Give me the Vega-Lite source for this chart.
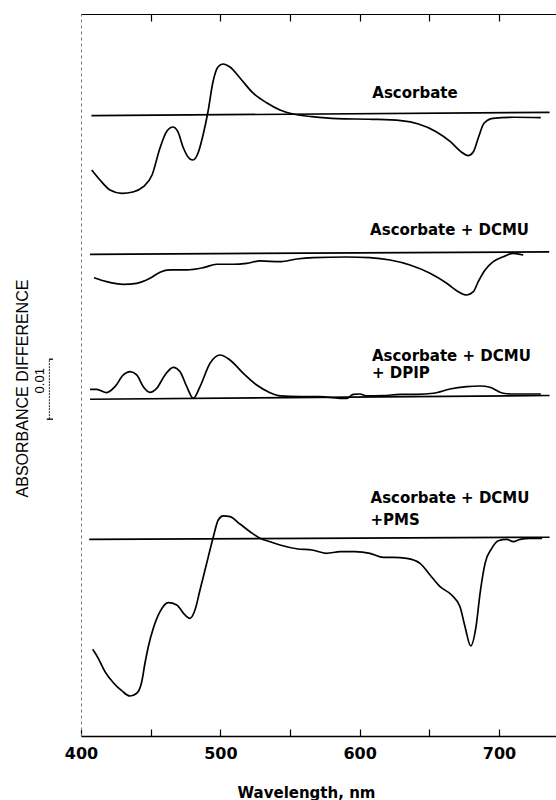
{
  "$schema": "https://vega.github.io/schema/vega-lite/v6.json",
  "width": 475,
  "height": 722,
  "autosize": {"type": "none"},
  "padding": {"left": 81, "top": 14, "right": 0, "bottom": 64},
  "background": "white",
  "config": {"view": {"stroke": null}},
  "datasets": {
    "curves": [
      {"trace": "Ascorbate", "wl": 407.7, "y": 94.33},
      {"trace": "Ascorbate", "wl": 413.6, "y": 92.67},
      {"trace": "Ascorbate", "wl": 420.8, "y": 91.0},
      {"trace": "Ascorbate", "wl": 429.2, "y": 90.45},
      {"trace": "Ascorbate", "wl": 437.3, "y": 90.67},
      {"trace": "Ascorbate", "wl": 444.5, "y": 91.5},
      {"trace": "Ascorbate", "wl": 451.0, "y": 93.5},
      {"trace": "Ascorbate", "wl": 456.7, "y": 98.0},
      {"trace": "Ascorbate", "wl": 461.7, "y": 100.83},
      {"trace": "Ascorbate", "wl": 466.0, "y": 101.5},
      {"trace": "Ascorbate", "wl": 469.6, "y": 100.67},
      {"trace": "Ascorbate", "wl": 473.2, "y": 98.17},
      {"trace": "Ascorbate", "wl": 478.2, "y": 96.17},
      {"trace": "Ascorbate", "wl": 480.4, "y": 96.0},
      {"trace": "Ascorbate", "wl": 484.0, "y": 97.17},
      {"trace": "Ascorbate", "wl": 487.6, "y": 100.17},
      {"trace": "Ascorbate", "wl": 491.1, "y": 104.0},
      {"trace": "Ascorbate", "wl": 494.7, "y": 109.0},
      {"trace": "Ascorbate", "wl": 498.3, "y": 111.5},
      {"trace": "Ascorbate", "wl": 501.9, "y": 112.0},
      {"trace": "Ascorbate", "wl": 506.9, "y": 111.5},
      {"trace": "Ascorbate", "wl": 514.1, "y": 109.67},
      {"trace": "Ascorbate", "wl": 523.4, "y": 107.17},
      {"trace": "Ascorbate", "wl": 533.5, "y": 105.5},
      {"trace": "Ascorbate", "wl": 542.8, "y": 104.33},
      {"trace": "Ascorbate", "wl": 553.1, "y": 103.62},
      {"trace": "Ascorbate", "wl": 565.8, "y": 103.22},
      {"trace": "Ascorbate", "wl": 583.7, "y": 102.88},
      {"trace": "Ascorbate", "wl": 609.1, "y": 102.78},
      {"trace": "Ascorbate", "wl": 629.5, "y": 102.55},
      {"trace": "Ascorbate", "wl": 642.2, "y": 102.0},
      {"trace": "Ascorbate", "wl": 654.9, "y": 100.72},
      {"trace": "Ascorbate", "wl": 665.1, "y": 99.05},
      {"trace": "Ascorbate", "wl": 672.7, "y": 97.38},
      {"trace": "Ascorbate", "wl": 677.8, "y": 96.72},
      {"trace": "Ascorbate", "wl": 681.6, "y": 97.38},
      {"trace": "Ascorbate", "wl": 685.4, "y": 99.88},
      {"trace": "Ascorbate", "wl": 689.2, "y": 102.12},
      {"trace": "Ascorbate", "wl": 695.6, "y": 102.95},
      {"trace": "Ascorbate", "wl": 710.9, "y": 103.12},
      {"trace": "Ascorbate", "wl": 730.0, "y": 103.05},

      {"trace": "Ascorbate + DCMU", "wl": 409.3, "y": 76.38},
      {"trace": "Ascorbate + DCMU", "wl": 418.4, "y": 75.72},
      {"trace": "Ascorbate + DCMU", "wl": 430.4, "y": 75.28},
      {"trace": "Ascorbate + DCMU", "wl": 440.0, "y": 75.45},
      {"trace": "Ascorbate + DCMU", "wl": 449.5, "y": 76.28},
      {"trace": "Ascorbate + DCMU", "wl": 456.7, "y": 77.28},
      {"trace": "Ascorbate + DCMU", "wl": 463.9, "y": 77.67},
      {"trace": "Ascorbate + DCMU", "wl": 475.9, "y": 77.67},
      {"trace": "Ascorbate + DCMU", "wl": 487.8, "y": 78.05},
      {"trace": "Ascorbate + DCMU", "wl": 497.4, "y": 78.62},
      {"trace": "Ascorbate + DCMU", "wl": 509.3, "y": 78.62},
      {"trace": "Ascorbate + DCMU", "wl": 518.9, "y": 78.78},
      {"trace": "Ascorbate + DCMU", "wl": 528.5, "y": 79.17},
      {"trace": "Ascorbate + DCMU", "wl": 542.8, "y": 79.05},
      {"trace": "Ascorbate + DCMU", "wl": 554.8, "y": 79.5},
      {"trace": "Ascorbate + DCMU", "wl": 566.7, "y": 79.72},
      {"trace": "Ascorbate + DCMU", "wl": 590.7, "y": 79.83},
      {"trace": "Ascorbate + DCMU", "wl": 607.4, "y": 79.72},
      {"trace": "Ascorbate + DCMU", "wl": 621.8, "y": 79.33},
      {"trace": "Ascorbate + DCMU", "wl": 636.1, "y": 78.5},
      {"trace": "Ascorbate + DCMU", "wl": 650.5, "y": 77.12},
      {"trace": "Ascorbate + DCMU", "wl": 662.5, "y": 75.45},
      {"trace": "Ascorbate + DCMU", "wl": 670.8, "y": 74.05},
      {"trace": "Ascorbate + DCMU", "wl": 676.8, "y": 73.5},
      {"trace": "Ascorbate + DCMU", "wl": 681.6, "y": 74.05},
      {"trace": "Ascorbate + DCMU", "wl": 685.1, "y": 75.72},
      {"trace": "Ascorbate + DCMU", "wl": 690.0, "y": 77.67},
      {"trace": "Ascorbate + DCMU", "wl": 695.9, "y": 79.05},
      {"trace": "Ascorbate + DCMU", "wl": 703.1, "y": 79.88},
      {"trace": "Ascorbate + DCMU", "wl": 710.3, "y": 80.45},
      {"trace": "Ascorbate + DCMU", "wl": 717.4, "y": 80.17},

      {"trace": "Ascorbate + DCMU + DPIP", "wl": 406.5, "y": 57.78},
      {"trace": "Ascorbate + DCMU + DPIP", "wl": 411.3, "y": 57.78},
      {"trace": "Ascorbate + DCMU + DPIP", "wl": 418.4, "y": 57.22},
      {"trace": "Ascorbate + DCMU + DPIP", "wl": 424.4, "y": 58.22},
      {"trace": "Ascorbate + DCMU + DPIP", "wl": 430.4, "y": 60.17},
      {"trace": "Ascorbate + DCMU + DPIP", "wl": 435.2, "y": 60.72},
      {"trace": "Ascorbate + DCMU + DPIP", "wl": 440.0, "y": 60.17},
      {"trace": "Ascorbate + DCMU + DPIP", "wl": 444.7, "y": 58.22},
      {"trace": "Ascorbate + DCMU + DPIP", "wl": 449.5, "y": 57.28},
      {"trace": "Ascorbate + DCMU + DPIP", "wl": 454.3, "y": 57.95},
      {"trace": "Ascorbate + DCMU + DPIP", "wl": 460.3, "y": 60.17},
      {"trace": "Ascorbate + DCMU + DPIP", "wl": 466.2, "y": 61.45},
      {"trace": "Ascorbate + DCMU + DPIP", "wl": 471.1, "y": 60.72},
      {"trace": "Ascorbate + DCMU + DPIP", "wl": 475.9, "y": 58.22},
      {"trace": "Ascorbate + DCMU + DPIP", "wl": 480.6, "y": 56.28},
      {"trace": "Ascorbate + DCMU + DPIP", "wl": 485.4, "y": 58.22},
      {"trace": "Ascorbate + DCMU + DPIP", "wl": 492.6, "y": 62.12},
      {"trace": "Ascorbate + DCMU + DPIP", "wl": 499.8, "y": 63.5},
      {"trace": "Ascorbate + DCMU + DPIP", "wl": 506.9, "y": 62.67},
      {"trace": "Ascorbate + DCMU + DPIP", "wl": 516.5, "y": 60.45},
      {"trace": "Ascorbate + DCMU + DPIP", "wl": 526.1, "y": 58.5},
      {"trace": "Ascorbate + DCMU + DPIP", "wl": 535.6, "y": 57.22},
      {"trace": "Ascorbate + DCMU + DPIP", "wl": 542.8, "y": 56.67},
      {"trace": "Ascorbate + DCMU + DPIP", "wl": 557.2, "y": 56.55},
      {"trace": "Ascorbate + DCMU + DPIP", "wl": 571.5, "y": 56.55},
      {"trace": "Ascorbate + DCMU + DPIP", "wl": 585.9, "y": 56.28},
      {"trace": "Ascorbate + DCMU + DPIP", "wl": 590.7, "y": 56.28},
      {"trace": "Ascorbate + DCMU + DPIP", "wl": 595.4, "y": 56.95},
      {"trace": "Ascorbate + DCMU + DPIP", "wl": 600.2, "y": 57.0},
      {"trace": "Ascorbate + DCMU + DPIP", "wl": 605.1, "y": 56.67},
      {"trace": "Ascorbate + DCMU + DPIP", "wl": 617.0, "y": 56.72},
      {"trace": "Ascorbate + DCMU + DPIP", "wl": 629.0, "y": 56.95},
      {"trace": "Ascorbate + DCMU + DPIP", "wl": 640.9, "y": 56.95},
      {"trace": "Ascorbate + DCMU + DPIP", "wl": 652.9, "y": 57.12},
      {"trace": "Ascorbate + DCMU + DPIP", "wl": 664.8, "y": 57.83},
      {"trace": "Ascorbate + DCMU + DPIP", "wl": 676.8, "y": 58.22},
      {"trace": "Ascorbate + DCMU + DPIP", "wl": 686.4, "y": 58.33},
      {"trace": "Ascorbate + DCMU + DPIP", "wl": 693.5, "y": 58.12},
      {"trace": "Ascorbate + DCMU + DPIP", "wl": 703.1, "y": 57.12},
      {"trace": "Ascorbate + DCMU + DPIP", "wl": 710.3, "y": 57.0},
      {"trace": "Ascorbate + DCMU + DPIP", "wl": 722.2, "y": 57.0},
      {"trace": "Ascorbate + DCMU + DPIP", "wl": 730.0, "y": 57.0},

      {"trace": "Ascorbate + DCMU + PMS", "wl": 408.4, "y": 14.45},
      {"trace": "Ascorbate + DCMU + PMS", "wl": 412.4, "y": 12.95},
      {"trace": "Ascorbate + DCMU + PMS", "wl": 417.2, "y": 10.72},
      {"trace": "Ascorbate + DCMU + PMS", "wl": 423.2, "y": 8.88},
      {"trace": "Ascorbate + DCMU + PMS", "wl": 429.2, "y": 7.55},
      {"trace": "Ascorbate + DCMU + PMS", "wl": 435.2, "y": 6.67},
      {"trace": "Ascorbate + DCMU + PMS", "wl": 440.0, "y": 7.12},
      {"trace": "Ascorbate + DCMU + PMS", "wl": 443.6, "y": 9.05},
      {"trace": "Ascorbate + DCMU + PMS", "wl": 445.9, "y": 12.12},
      {"trace": "Ascorbate + DCMU + PMS", "wl": 448.3, "y": 14.88},
      {"trace": "Ascorbate + DCMU + PMS", "wl": 451.9, "y": 17.95},
      {"trace": "Ascorbate + DCMU + PMS", "wl": 456.7, "y": 20.72},
      {"trace": "Ascorbate + DCMU + PMS", "wl": 462.7, "y": 22.22},
      {"trace": "Ascorbate + DCMU + PMS", "wl": 468.7, "y": 21.83},
      {"trace": "Ascorbate + DCMU + PMS", "wl": 474.6, "y": 20.17},
      {"trace": "Ascorbate + DCMU + PMS", "wl": 478.2, "y": 19.62},
      {"trace": "Ascorbate + DCMU + PMS", "wl": 481.8, "y": 21.0},
      {"trace": "Ascorbate + DCMU + PMS", "wl": 485.4, "y": 24.33},
      {"trace": "Ascorbate + DCMU + PMS", "wl": 490.2, "y": 28.78},
      {"trace": "Ascorbate + DCMU + PMS", "wl": 495.0, "y": 33.22},
      {"trace": "Ascorbate + DCMU + PMS", "wl": 498.5, "y": 36.0},
      {"trace": "Ascorbate + DCMU + PMS", "wl": 502.1, "y": 36.67},
      {"trace": "Ascorbate + DCMU + PMS", "wl": 506.9, "y": 36.55},
      {"trace": "Ascorbate + DCMU + PMS", "wl": 514.1, "y": 35.33},
      {"trace": "Ascorbate + DCMU + PMS", "wl": 521.3, "y": 34.05},
      {"trace": "Ascorbate + DCMU + PMS", "wl": 528.5, "y": 32.95},
      {"trace": "Ascorbate + DCMU + PMS", "wl": 535.6, "y": 32.38},
      {"trace": "Ascorbate + DCMU + PMS", "wl": 542.8, "y": 31.83},
      {"trace": "Ascorbate + DCMU + PMS", "wl": 555.7, "y": 31.17},
      {"trace": "Ascorbate + DCMU + PMS", "wl": 565.8, "y": 31.0},
      {"trace": "Ascorbate + DCMU + PMS", "wl": 576.0, "y": 30.45},
      {"trace": "Ascorbate + DCMU + PMS", "wl": 586.2, "y": 30.72},
      {"trace": "Ascorbate + DCMU + PMS", "wl": 596.4, "y": 30.72},
      {"trace": "Ascorbate + DCMU + PMS", "wl": 607.4, "y": 30.45},
      {"trace": "Ascorbate + DCMU + PMS", "wl": 617.0, "y": 29.78},
      {"trace": "Ascorbate + DCMU + PMS", "wl": 624.1, "y": 29.78},
      {"trace": "Ascorbate + DCMU + PMS", "wl": 633.8, "y": 29.6},
      {"trace": "Ascorbate + DCMU + PMS", "wl": 643.3, "y": 28.78},
      {"trace": "Ascorbate + DCMU + PMS", "wl": 650.5, "y": 26.83},
      {"trace": "Ascorbate + DCMU + PMS", "wl": 657.7, "y": 24.88},
      {"trace": "Ascorbate + DCMU + PMS", "wl": 666.0, "y": 23.5},
      {"trace": "Ascorbate + DCMU + PMS", "wl": 672.0, "y": 21.55},
      {"trace": "Ascorbate + DCMU + PMS", "wl": 675.6, "y": 18.22},
      {"trace": "Ascorbate + DCMU + PMS", "wl": 679.7, "y": 15.0},
      {"trace": "Ascorbate + DCMU + PMS", "wl": 683.5, "y": 18.22},
      {"trace": "Ascorbate + DCMU + PMS", "wl": 686.4, "y": 23.78},
      {"trace": "Ascorbate + DCMU + PMS", "wl": 690.0, "y": 28.78},
      {"trace": "Ascorbate + DCMU + PMS", "wl": 694.8, "y": 31.28},
      {"trace": "Ascorbate + DCMU + PMS", "wl": 699.5, "y": 32.55},
      {"trace": "Ascorbate + DCMU + PMS", "wl": 705.5, "y": 32.78},
      {"trace": "Ascorbate + DCMU + PMS", "wl": 710.3, "y": 32.38},
      {"trace": "Ascorbate + DCMU + PMS", "wl": 715.1, "y": 32.78},
      {"trace": "Ascorbate + DCMU + PMS", "wl": 722.2, "y": 32.95},
      {"trace": "Ascorbate + DCMU + PMS", "wl": 730.9, "y": 32.95}
    ],
    "baselines": [
      {"trace": "Ascorbate", "wl": 407.5, "y": 103.38},
      {"trace": "Ascorbate", "wl": 736.3, "y": 103.95},
      {"trace": "Ascorbate + DCMU", "wl": 406.5, "y": 80.28},
      {"trace": "Ascorbate + DCMU", "wl": 736.0, "y": 80.67},
      {"trace": "Ascorbate + DCMU + DPIP", "wl": 406.5, "y": 56.12},
      {"trace": "Ascorbate + DCMU + DPIP", "wl": 736.3, "y": 56.75},
      {"trace": "Ascorbate + DCMU + PMS", "wl": 405.9, "y": 32.78},
      {"trace": "Ascorbate + DCMU + PMS", "wl": 736.3, "y": 33.12}
    ],
    "labels": [
      {"text": "Ascorbate", "wl": 639.7, "y": 106.33, "anchor": "center"},
      {"text": "Ascorbate + DCMU", "wl": 664.5, "y": 83.5, "anchor": "center"},
      {"text": "Ascorbate + DCMU", "wl": 608.8, "y": 62.5, "anchor": "left"},
      {"text": "+ DPIP", "wl": 608.8, "y": 59.67, "anchor": "left"},
      {"text": "Ascorbate + DCMU", "wl": 607.8, "y": 38.83, "anchor": "left"},
      {"text": "+PMS", "wl": 607.8, "y": 35.17, "anchor": "left"}
    ],
    "scalebar": [{"wl": 377.3, "lo": 52.8, "hi": 62.8}],
    "scalecaps": [
      {"wl": 375.4, "wl2": 379.9, "y": 52.8},
      {"wl": 377.0, "wl2": 379.9, "y": 62.8}
    ],
    "scaletext": [{"text": "0.01", "wl": 370.6, "y": 59.2}]
  },
  "resolve": {"axis": {"x": "independent", "y": "independent"}},
  "layer": [
    {
      "data": {"name": "curves"},
      "mark": {"type": "line", "color": "black", "strokeWidth": 1.7, "interpolate": "monotone"},
      "encoding": {
        "x": {
          "field": "wl", "type": "quantitative",
          "scale": {"domain": [400, 740.9], "nice": false, "zero": false},
          "axis": {
            "orient": "bottom",
            "values": [400, 450, 500, 550, 600, 650, 700],
            "labelExpr": "datum.value % 100 === 0 ? datum.label : ''",
            "grid": false,
            "tickSize": -7, "tickColor": "black", "tickWidth": 1.2,
            "domainColor": "black", "domainWidth": 1.5,
            "labelFont": "DejaVu Sans", "labelFontSize": 16, "labelFontWeight": "bold", "labelColor": "black",
            "labelPadding": 16, "labelDx": 3, "labelFlush": false, "labelOverlap": false,
            "title": "Wavelength, nm",
            "titleFont": "DejaVu Sans", "titleFontSize": 15, "titleFontWeight": "bold", "titleColor": "black",
            "titleX": 225, "titleY": 61, "titleBaseline": "alphabetic", "titleAlign": "center"
          }
        },
        "y": {
          "field": "y", "type": "quantitative",
          "scale": {"domain": [0, 120.33], "nice": false, "zero": false},
          "axis": {
            "orient": "left", "ticks": false, "labels": false, "grid": false,
            "domainColor": "#777", "domainWidth": 1, "domainDash": [3, 3],
            "title": "ABSORBANCE DIFFERENCE",
            "titleFont": "Liberation Sans", "titleFontSize": 16, "titleFontWeight": "normal", "titleColor": "black",
            "titleAngle": 270, "titleX": -59, "titleY": 374, "titleAlign": "center", "titleBaseline": "middle"
          }
        },
        "detail": {"field": "trace", "type": "nominal"}
      }
    },
    {
      "data": {"name": "baselines"},
      "mark": {"type": "line", "color": "black", "strokeWidth": 1.7},
      "encoding": {
        "x": {
          "field": "wl", "type": "quantitative",
          "axis": {
            "orient": "top",
            "values": [450, 500, 550, 600, 650, 700],
            "labels": false, "grid": false, "title": null,
            "tickSize": -7, "tickColor": "black", "tickWidth": 1.2,
            "domainColor": "black", "domainWidth": 1.2
          }
        },
        "y": {"field": "y", "type": "quantitative", "axis": null},
        "detail": {"field": "trace", "type": "nominal"}
      }
    },
    {
      "data": {"name": "scalebar"},
      "mark": {"type": "rule", "color": "#222", "strokeWidth": 1, "strokeDash": [2, 1]},
      "encoding": {
        "x": {"field": "wl", "type": "quantitative", "axis": null},
        "y": {"field": "lo", "type": "quantitative", "axis": null},
        "y2": {"field": "hi"}
      }
    },
    {
      "data": {"name": "scalecaps"},
      "mark": {"type": "rule", "color": "black", "strokeWidth": 1.3},
      "encoding": {
        "x": {"field": "wl", "type": "quantitative", "axis": null},
        "x2": {"field": "wl2"},
        "y": {"field": "y", "type": "quantitative", "axis": null}
      }
    },
    {
      "data": {"name": "scaletext"},
      "mark": {"type": "text", "font": "Liberation Sans", "fontSize": 13, "angle": 270, "align": "center", "baseline": "middle", "color": "black"},
      "encoding": {
        "x": {"field": "wl", "type": "quantitative", "axis": null},
        "y": {"field": "y", "type": "quantitative", "axis": null},
        "text": {"field": "text"}
      }
    },
    {
      "data": {"name": "labels"},
      "transform": [{"filter": "datum.anchor === 'center'"}],
      "mark": {"type": "text", "font": "DejaVu Sans", "fontSize": 15, "fontWeight": "bold", "align": "center", "baseline": "alphabetic", "color": "black"},
      "encoding": {
        "x": {"field": "wl", "type": "quantitative", "axis": null},
        "y": {"field": "y", "type": "quantitative", "axis": null},
        "text": {"field": "text"}
      }
    },
    {
      "data": {"name": "labels"},
      "transform": [{"filter": "datum.anchor === 'left'"}],
      "mark": {"type": "text", "font": "DejaVu Sans", "fontSize": 15, "fontWeight": "bold", "align": "left", "baseline": "alphabetic", "color": "black"},
      "encoding": {
        "x": {"field": "wl", "type": "quantitative", "axis": null},
        "y": {"field": "y", "type": "quantitative", "axis": null},
        "text": {"field": "text"}
      }
    }
  ]
}
